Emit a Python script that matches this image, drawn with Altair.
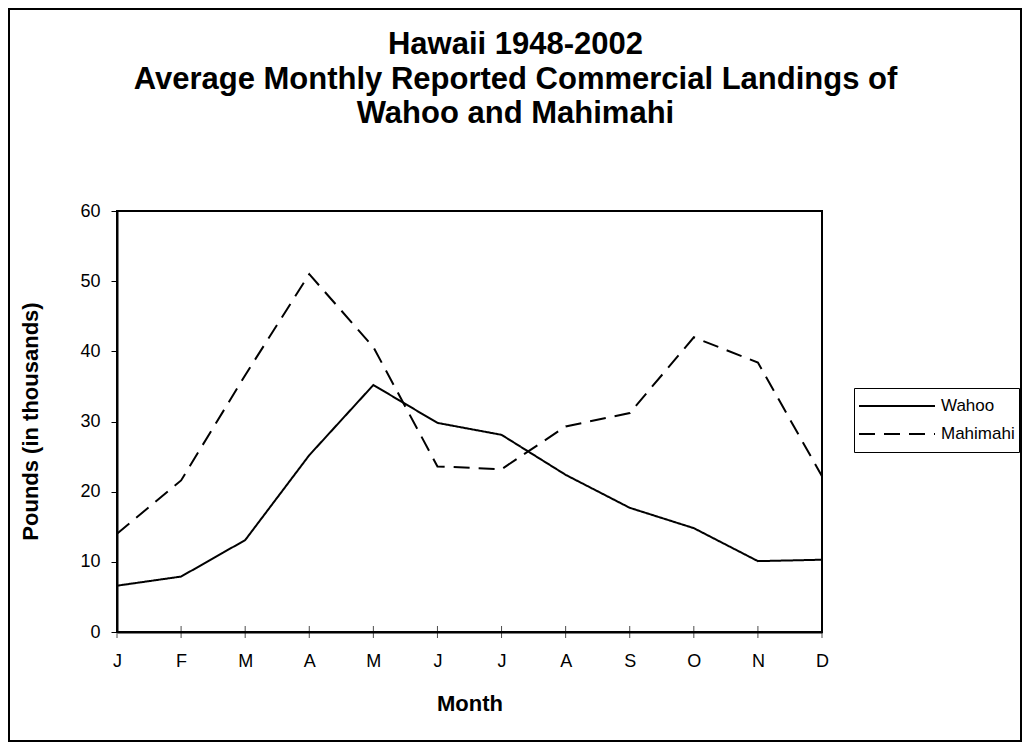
import altair as alt
import pandas as pd

months = ["Jan", "Feb", "Mar", "Apr", "May", "Jun", "Jul", "Aug", "Sep", "Oct", "Nov", "Dec"]
wahoo = [6.6, 7.9, 13.1, 25.2, 35.2, 29.8, 28.1, 22.4, 17.7, 14.8, 10.1, 10.3]
mahimahi = [14.0, 21.6, 36.6, 51.0, 40.6, 23.6, 23.2, 29.3, 31.2, 42.0, 38.4, 22.2]
series = ["Wahoo", "Mahimahi"]

rows = []
for i, m in enumerate(months):
    rows.append({"month": m, "order": i, "series": "Wahoo", "value": wahoo[i]})
    rows.append({"month": m, "order": i, "series": "Mahimahi", "value": mahimahi[i]})
df = pd.DataFrame(rows)
mdf = pd.DataFrame({"month": months})

FONT = "Liberation Sans"

x_scale = alt.Scale(type="point", padding=0)

x_enc = alt.X("month:N", sort=months, scale=x_scale,
              axis=alt.Axis(title="Month", labelAngle=0,
                            labelExpr="substring(datum.label, 0, 1)",
                            labelFontSize=18, labelPadding=20, ticks=False,
                            titleFontSize=22, titleFontWeight="bold",
                            titleY=61, titleBaseline="top"))
y_enc = alt.Y("value:Q", scale=alt.Scale(domain=[0, 60], nice=False),
              axis=alt.Axis(title="Pounds (in thousands)", values=[0, 10, 20, 30, 40, 50, 60],
                            labelFontSize=18, labelPadding=11, tickSize=6,
                            titleFontSize=22, titleFontWeight="bold",
                            titleX=-87, titleY=210, titleAngle=-90, titleBaseline="middle",
                            grid=False))

lines = alt.Chart(df).mark_line(strokeWidth=2, color="black").encode(
    x=x_enc,
    y=y_enc,
    strokeDash=alt.StrokeDash("series:N", sort=series,
                              scale=alt.Scale(domain=series, range=[[1, 0], [16, 9]]),
                              legend=alt.Legend(title=None, orient="none", legendX=737, legendY=177,
                                                symbolType="stroke", symbolSize=5776,
                                                symbolStrokeColor="black", symbolStrokeWidth=2,
                                                labelFontSize=17, labelOffset=5, clipHeight=28,
                                                strokeColor="black", padding=4, fillColor="white",
                                                rowPadding=0)),
    detail="series:N",
)

ticks = alt.Chart(mdf).mark_tick(orient="vertical", size=12, thickness=1, color="black").encode(
    x=alt.X("month:N", sort=months, scale=x_scale),
    y=alt.datum(0),
)

frame = alt.Chart(alt.Data(values=[{"a": 1}])).mark_rect(
    fillOpacity=0, stroke="black", strokeWidth=2
).encode(
    x=alt.value(-108), x2=alt.value(904), y=alt.value(-202), y2=alt.value(530)
)

chart = alt.layer(frame, lines, ticks).properties(
    width=705, height=421,
    padding={"left": 109, "top": 203, "right": 200, "bottom": 110},
    autosize=alt.AutoSizeParams(type="none"),
    title=alt.Title(["Hawaii 1948-2002",
                     "Average Monthly Reported Commercial Landings of",
                     "Wahoo and Mahimahi"],
                    fontSize=31, font=FONT, fontWeight="bold", lineHeight=34.5,
                    anchor="middle", dx=46, offset=-122, color="black"),
).configure(font=FONT).configure_view(
    stroke="black", strokeWidth=2
).configure_axis(
    domainColor="black", domainWidth=2, tickColor="black", tickWidth=1,
    labelColor="black", titleColor="black", labelFont=FONT, titleFont=FONT
).configure_legend(
    labelFont=FONT, labelColor="black"
)

chart.save("out.html", embed_options={"renderer": "svg", "actions": False})
